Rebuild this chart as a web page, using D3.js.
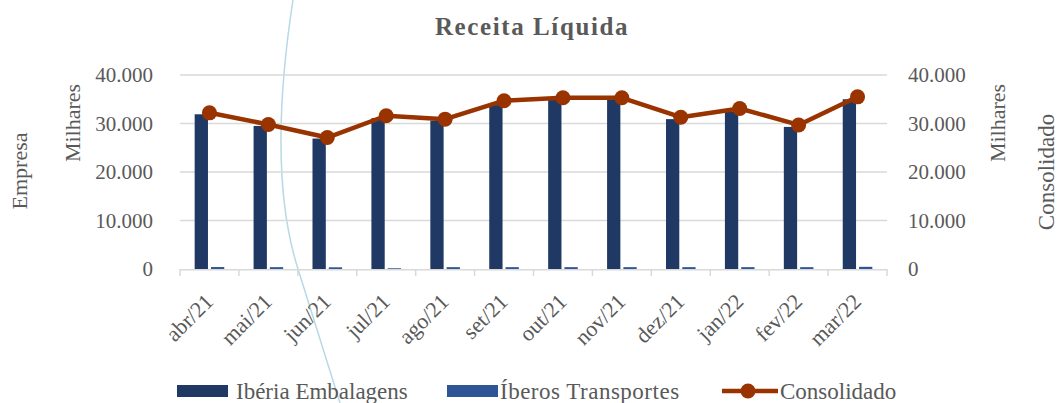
<!DOCTYPE html>
<html>
<head>
<meta charset="utf-8">
<script src="https://cdn.jsdelivr.net/npm/d3@7"></script>
<style>
	body { margin: 0; background: #fff; }
	svg text { font-family: "Liberation Serif", "DejaVu Serif", serif; fill: #595959; }
</style>
</head>
<body>
<svg id="chart" width="1058" height="403"></svg>
<script>
// Receita Líquida (milhares)
const months = ["abr/21", "mai/21", "jun/21", "jul/21", "ago/21", "set/21", "out/21", "nov/21", "dez/21", "jan/22", "fev/22", "mar/22"];
const iberiaEmbalagens = [31900, 29500, 26900, 31100, 30600, 33800, 35000, 35000, 30900, 32400, 29300, 35000];
const iberosTransportes = [400, 380, 350, 150, 380, 380, 380, 380, 380, 380, 380, 450];
const consolidado = [32200, 29800, 27100, 31600, 30900, 34700, 35300, 35300, 31300, 33100, 29700, 35500];
const yTicks = [0, 10000, 20000, 30000, 40000];
const seriesNames = ["Ibéria Embalagens", "Íberos Transportes"];

const barColors = ["#203864", "#2F5597"];
const lineColor = "#993300";

const svg = d3.select("#chart");
const plot = { left: 180, right: 887, top: 75, bottom: 269 };

const x0 = d3.scaleBand().domain(months).range([plot.left, plot.right]);
const x1 = d3.scaleBand().domain(seriesNames).range([0, x0.bandwidth()]).paddingInner(0.184).paddingOuter(0.9);
const y = d3.scaleLinear().domain([0, 40000]).range([plot.bottom, plot.top]);
const fmt = v => d3.format(",")(v).replace(/,/g, ".");

// decorative arc crossing the picture
svg.append("path")
	.attr("d", "M293,0 C276,110 276,200 298,269 S 330,370 340,403")
	.attr("fill", "none")
	.attr("stroke", "#b7d8e6")
	.attr("stroke-width", 1.5);

// gridlines
svg.append("g").selectAll("line")
	.data(yTicks.slice(1))
	.join("line")
	.attr("x1", plot.left).attr("x2", plot.right)
	.attr("y1", d => y(d)).attr("y2", d => y(d))
	.attr("stroke", "#d9d9d9").attr("stroke-width", 1.5);

// left / right tick labels
svg.append("g").selectAll("text")
	.data(yTicks).join("text")
	.attr("x", 153).attr("y", d => y(d) + 7)
	.attr("text-anchor", "end")
	.style("font-size", "21px")
	.text(fmt);

svg.append("g").selectAll("text")
	.data(yTicks).join("text")
	.attr("x", 908).attr("y", d => y(d) + 7)
	.attr("text-anchor", "start")
	.style("font-size", "21px")
	.text(fmt);

// bars
const groups = svg.append("g").selectAll("g")
	.data(months).join("g")
	.attr("transform", d => `translate(${x0(d)},0)`);

groups.selectAll("rect")
	.data((d, i) => [iberiaEmbalagens[i], iberosTransportes[i]].map((v, k) => ({ key: seriesNames[k], value: v, k: k })))
	.join("rect")
	.attr("x", d => x1(d.key))
	.attr("width", x1.bandwidth())
	.attr("y", d => y(d.value))
	.attr("height", d => y(0) - y(d.value))
	.attr("fill", d => barColors[d.k]);

// x axis line + ticks
svg.append("line")
	.attr("x1", plot.left).attr("x2", plot.right)
	.attr("y1", plot.bottom + 0.75).attr("y2", plot.bottom + 0.75)
	.attr("stroke", "#d9d9d9").attr("stroke-width", 1.5);

const tickPos = months.map(m => x0(m)).concat([plot.right]);
svg.append("g").selectAll("line")
	.data(tickPos).join("line")
	.attr("x1", d => d).attr("x2", d => d)
	.attr("y1", plot.bottom).attr("y2", plot.bottom + 7)
	.attr("stroke", "#d9d9d9").attr("stroke-width", 1.5);

// x labels
svg.append("g").selectAll("text")
	.data(months).join("text")
	.attr("transform", d => `translate(${x0(d) + x0.bandwidth() / 2 + 5},303) rotate(-45)`)
	.attr("text-anchor", "end")
	.style("font-size", "22px")
	.text(d => d);

// line
const cx = d => x0(d) + x0.bandwidth() / 2;
const line = d3.line()
	.x((d, i) => cx(months[i]))
	.y(d => y(d));

svg.append("path")
	.datum(consolidado)
	.attr("d", line)
	.attr("fill", "none")
	.attr("stroke", lineColor)
	.attr("stroke-width", 4.5)
	.attr("stroke-linejoin", "round");

svg.append("g").selectAll("circle")
	.data(consolidado).join("circle")
	.attr("cx", (d, i) => cx(months[i]))
	.attr("cy", d => y(d))
	.attr("r", 7.5)
	.attr("fill", lineColor);

// title
svg.append("text")
	.attr("x", 532).attr("y", 35)
	.attr("text-anchor", "middle")
	.style("font-size", "25px")
	.style("font-weight", "bold")
	.style("letter-spacing", "1.6px")
	.text("Receita Líquida");

// axis titles
function vText(xp, yp, txt, size) {
	svg.append("text")
		.attr("transform", `translate(${xp},${yp}) rotate(-90)`)
		.attr("text-anchor", "middle")
		.style("font-size", size + "px")
		.text(txt);
}
vText(80, 123, "Milhares", 22);
vText(27, 171, "Empresa", 22);
vText(1005, 123, "Milhares", 22);
vText(1054, 172, "Consolidado", 23);

// legend
const legend = svg.append("g");
legend.append("rect").attr("x", 177).attr("y", 385).attr("width", 51).attr("height", 12).attr("fill", barColors[0]);
legend.append("text").attr("x", 236).attr("y", 399).style("font-size", "23px").text(seriesNames[0]);
legend.append("rect").attr("x", 447).attr("y", 385).attr("width", 51).attr("height", 12).attr("fill", barColors[1]);
legend.append("text").attr("x", 500).attr("y", 399).style("font-size", "23px").style("letter-spacing", "0.5px").text(seriesNames[1]);
legend.append("line").attr("x1", 722).attr("x2", 778).attr("y1", 391).attr("y2", 391)
	.attr("stroke", lineColor).attr("stroke-width", 4.5);
legend.append("circle").attr("cx", 748).attr("cy", 391).attr("r", 7.5).attr("fill", lineColor);
legend.append("text").attr("x", 780).attr("y", 399).style("font-size", "23px").text("Consolidado");
</script>
</body>
</html>
